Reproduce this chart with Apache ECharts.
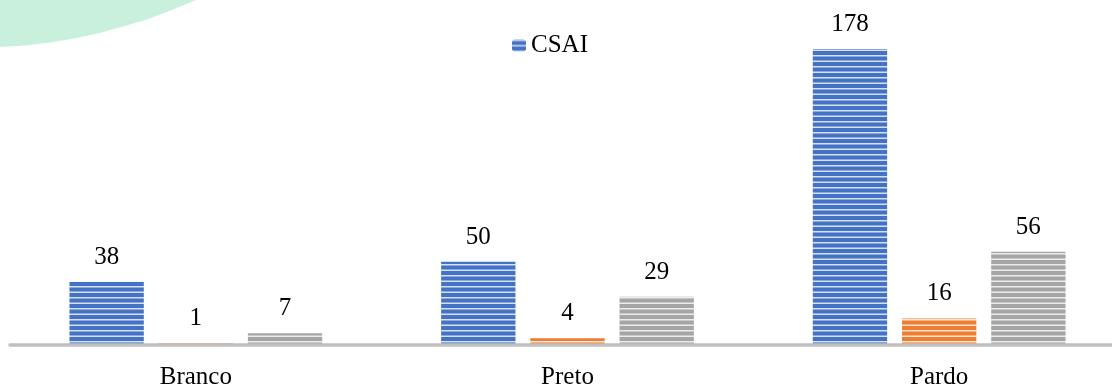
<!DOCTYPE html>
<html>
<head>
<meta charset="utf-8">
<script src="https://cdn.jsdelivr.net/npm/echarts@6/dist/echarts.min.js"></script>
<style>
  html, body { margin: 0; padding: 0; background: #ffffff; }
  #chart { width: 1112px; height: 387px; }
</style>
</head>
<body>
<div id="chart"></div>
<script>
// Categories and values per series
const categories = ['Branco', 'Preto', 'Pardo'];
const csai = [38, 50, 178];
const serie2 = [1, 4, 16];
const serie3 = [7, 29, 56];
const seriesNames = ['CSAI', 'Série 2', 'Série 3'];
const legendItems = ['CSAI'];

// Horizontal-stripe fill used by all bars
function stripes(base) {
  const c = document.createElement('canvas');
  c.width = 8; c.height = 11;
  const g = c.getContext('2d');
  g.fillStyle = base;
  g.fillRect(0, 0, 8, 11);
  g.fillStyle = 'rgba(255,255,255,0.78)';
  g.fillRect(0, 0, 8, 1.5);
  g.fillRect(0, 5.5, 8, 1.5);
  return { image: c, repeat: 'repeat' };
}

const chart = echarts.init(document.getElementById('chart'), null, { renderer: 'canvas' });
const font = '"Liberation Serif", "Times New Roman", serif';

function barSeries(name, data, base) {
  return {
    name: name,
    type: 'bar',
    data: data,
    barGap: '20%',
    barCategoryGap: '32%',
    itemStyle: { color: stripes(base) },
    label: {
      show: true,
      position: 'top',
      distance: 12,
      color: '#000',
      fontFamily: font,
      fontSize: 25
    }
  };
}

chart.setOption({
  animation: false,
  backgroundColor: '#ffffff',
  graphic: [{
    // mint corner decoration with a gently curved edge
    type: 'polygon',
    z: -1,
    shape: {
      points: [[0, 0], [196, 0], [171, 10.2], [148.5, 18.9], [123, 26.6],
               [100, 33], [74, 38.5], [50.5, 42.4], [25, 45.4], [0, 47]]
    },
    style: { fill: '#c9f0dc' }
  }],
  legend: {
    data: legendItems,
    left: 507,
    top: 28,
    itemWidth: 14,
    itemHeight: 12,
    itemGap: 10,
    textStyle: { fontFamily: font, fontSize: 25, color: '#000' }
  },
  grid: {
    left: 10, width: 1115, top: 12.4, height: 332.6,
    containLabel: false, outerBoundsMode: 'none'
  },
  xAxis: {
    type: 'category',
    data: categories,
    z: 5,
    axisLine: { lineStyle: { color: '#c0c0c0', width: 3.5 } },
    axisTick: { show: false },
    axisLabel: { margin: 20, color: '#000', fontFamily: font, fontSize: 25 }
  },
  yAxis: {
    type: 'value',
    min: 0,
    max: 200,
    show: false,
    splitLine: { show: false }
  },
  series: [
    barSeries(seriesNames[0], csai, '#4472c4'),
    barSeries(seriesNames[1], serie2, '#ed7d31'),
    barSeries(seriesNames[2], serie3, '#a5a5a5')
  ]
});
</script>
</body>
</html>
